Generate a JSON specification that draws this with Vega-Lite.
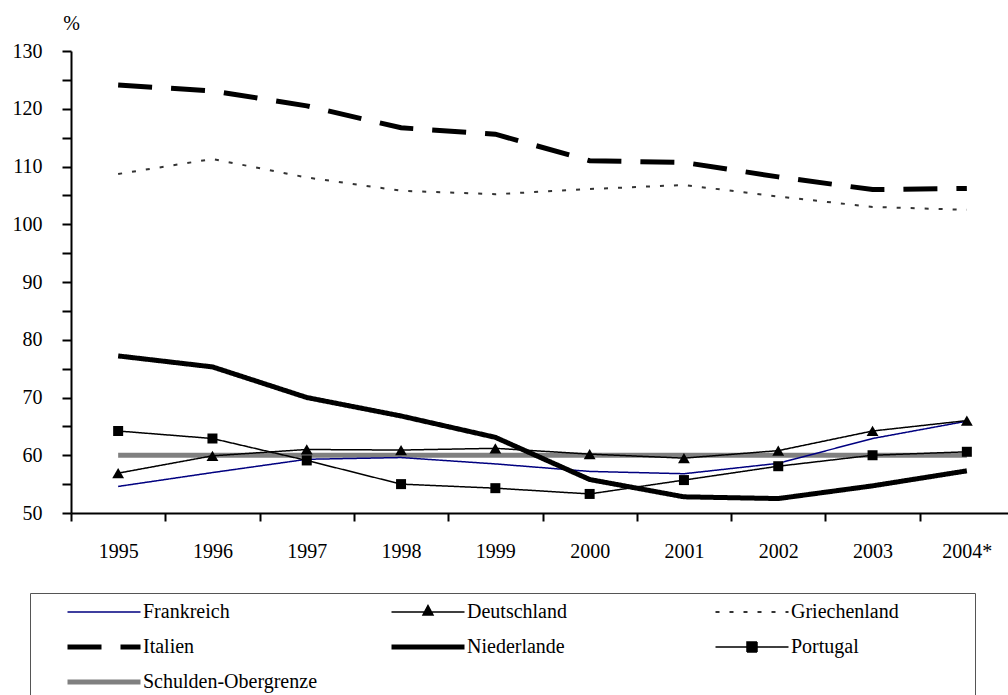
{
  "$schema": "https://vega.github.io/schema/vega-lite/v6.json",
  "width": 937,
  "height": 462,
  "autosize": {"type": "none"},
  "padding": {"left": 71, "top": 51, "right": 0, "bottom": 182},
  "background": "white",
  "config": {"font": "Liberation Serif", "view": {"stroke": null}},
  "data": {
    "values": [
      {"year": "1995", "Frankreich": 54.6, "Deutschland": 56.9, "Griechenland": 108.7, "Italien": 124.1, "Niederlande": 77.2, "Portugal": 64.2, "Schulden-Obergrenze": 60},
      {"year": "1996", "Frankreich": 57.0, "Deutschland": 59.9, "Griechenland": 111.3, "Italien": 123.1, "Niederlande": 75.3, "Portugal": 62.9, "Schulden-Obergrenze": 60},
      {"year": "1997", "Frankreich": 59.3, "Deutschland": 61.0, "Griechenland": 108.1, "Italien": 120.5, "Niederlande": 70.0, "Portugal": 59.1, "Schulden-Obergrenze": 60},
      {"year": "1998", "Frankreich": 59.6, "Deutschland": 60.9, "Griechenland": 105.8, "Italien": 116.7, "Niederlande": 66.8, "Portugal": 55.0, "Schulden-Obergrenze": 60},
      {"year": "1999", "Frankreich": 58.5, "Deutschland": 61.2, "Griechenland": 105.2, "Italien": 115.6, "Niederlande": 63.1, "Portugal": 54.3, "Schulden-Obergrenze": 60},
      {"year": "2000", "Frankreich": 57.2, "Deutschland": 60.2, "Griechenland": 106.1, "Italien": 111.0, "Niederlande": 55.8, "Portugal": 53.3, "Schulden-Obergrenze": 60},
      {"year": "2001", "Frankreich": 56.8, "Deutschland": 59.5, "Griechenland": 106.8, "Italien": 110.7, "Niederlande": 52.8, "Portugal": 55.7, "Schulden-Obergrenze": 60},
      {"year": "2002", "Frankreich": 58.6, "Deutschland": 60.8, "Griechenland": 104.8, "Italien": 108.2, "Niederlande": 52.5, "Portugal": 58.1, "Schulden-Obergrenze": 60},
      {"year": "2003", "Frankreich": 62.9, "Deutschland": 64.2, "Griechenland": 103.0, "Italien": 106.0, "Niederlande": 54.7, "Portugal": 60.0, "Schulden-Obergrenze": 60},
      {"year": "2004*", "Frankreich": 65.9, "Deutschland": 66.0, "Griechenland": 102.5, "Italien": 106.2, "Niederlande": 57.3, "Portugal": 60.6, "Schulden-Obergrenze": 60}
    ]
  },
  "transform": [
    {"fold": ["Frankreich", "Deutschland", "Griechenland", "Italien", "Niederlande", "Portugal", "Schulden-Obergrenze"], "as": ["series", "value"]}
  ],
  "encoding": {
    "x": {
      "field": "year", "type": "ordinal", "sort": null,
      "scale": {"type": "band", "paddingInner": 0, "paddingOuter": 0, "range": [0, 943]},
      "axis": {
        "title": null, "labelAngle": 0, "labelFont": "Liberation Serif", "labelFontSize": 20, "labelColor": "black",
        "labelPadding": 20, "tickSize": 8, "tickWidth": 2, "tickColor": "black", "domainColor": "black", "domainWidth": 2,
        "tickBand": "extent", "grid": false
      }
    },
    "y": {
      "field": "value", "type": "quantitative",
      "scale": {"domain": [50, 130], "nice": false, "zero": false},
      "axis": {
        "values": [50, 55, 60, 65, 70, 75, 80, 85, 90, 95, 100, 105, 110, 115, 120, 125, 130],
        "labelExpr": "datum.value % 10 === 0 ? datum.label : ''",
        "title": "%", "titleAngle": 0, "titleX": 0, "titleY": -28, "titleAlign": "center", "titleBaseline": "middle",
        "titleFont": "Liberation Serif", "titleFontSize": 20, "titleFontWeight": "normal", "titleColor": "black",
        "labelFont": "Liberation Serif", "labelFontSize": 20, "labelColor": "black", "labelPadding": 20,
        "tickSize": 9, "tickWidth": 2, "tickColor": "black", "domainColor": "black", "domainWidth": 2, "grid": false
      }
    }
  },
  "layer": [
    {
      "transform": [{"filter": "datum.series === 'Schulden-Obergrenze'"}],
      "mark": {"type": "line", "strokeWidth": 5},
      "encoding": {
        "color": {
          "field": "series", "type": "nominal",
          "scale": {
            "domain": ["Frankreich", "Deutschland", "Griechenland", "Italien", "Niederlande", "Portugal", "Schulden-Obergrenze"],
            "range": ["#000080", "#000000", "#333333", "#000000", "#000000", "#000000", "#808080"]
          }
        }
      }
    },
    {
      "transform": [{"filter": "datum.series !== 'Schulden-Obergrenze'"}],
      "mark": {"type": "line"},
      "encoding": {
        "color": {
          "field": "series", "type": "nominal",
          "scale": {
            "domain": ["Frankreich", "Deutschland", "Griechenland", "Italien", "Niederlande", "Portugal", "Schulden-Obergrenze"],
            "range": ["#000080", "#000000", "#333333", "#000000", "#000000", "#000000", "#808080"]
          },
          "legend": {
            "title": null, "orient": "none", "direction": "horizontal", "legendX": -41, "legendY": 542, "columns": 3, "gridAlign": "all",
            "columnPadding": 29, "rowPadding": 15, "padding": 9, "strokeColor": "#555555",
            "labelFont": "Liberation Serif", "labelFontSize": 20, "labelColor": "black", "labelLimit": 400,
            "symbolType": "stroke", "symbolSize": 400, "symbolOffset": 55, "labelOffset": 29,
            "encode": {
              "symbols": {
                "update": {
                  "shape": {"signal": "'M-6.5,0M21,0' + (datum.value === 'Deutschland' ? 'M-3.65,0H3.65M-0.5,0.3L0,-0.65L0.5,0.3Z' : (datum.value === 'Portugal' ? 'M-3.65,0H3.65M-0.5,-0.5H0.5V0.5H-0.5Z' : 'M-3.65,0H3.65'))"},
                  "fill": {"signal": "(datum.value === 'Deutschland' || datum.value === 'Portugal') ? 'black' : 'transparent'"},
                  "stroke": {"signal": "datum.value === 'Frankreich' ? '#000080' : (datum.value === 'Griechenland' ? '#333333' : (datum.value === 'Schulden-Obergrenze' ? '#808080' : '#000000'))"},
                  "opacity": {"value": 1},
                  "strokeWidth": {"signal": "(datum.value === 'Italien' || datum.value === 'Niederlande' || datum.value === 'Schulden-Obergrenze') ? 5 : (datum.value === 'Griechenland' ? 2 : 1.5)"},
                  "strokeDash": {"signal": "datum.value === 'Italien' ? [34, 19] : (datum.value === 'Griechenland' ? [4, 10] : [1, 0])"}
                }
              }
            }
          }
        },
        "strokeWidth": {
          "condition": [
            {"test": "datum.series === 'Italien' || datum.series === 'Niederlande'", "value": 5},
            {"test": "datum.series === 'Griechenland'", "value": 2}
          ],
          "value": 1.5
        },
        "strokeDash": {
          "condition": [
            {"test": "datum.series === 'Italien'", "value": [34, 19]},
            {"test": "datum.series === 'Griechenland'", "value": [4, 10]}
          ],
          "value": [1, 0]
        }
      }
    },
    {
      "transform": [{"filter": "datum.series === 'Deutschland' || datum.series === 'Portugal'"}],
      "mark": {"type": "point", "filled": true, "opacity": 1},
      "encoding": {
        "shape": {
          "field": "series", "type": "nominal",
          "scale": {"domain": ["Deutschland", "Portugal"], "range": ["triangle-up", "square"]},
          "legend": null
        },
        "color": {"value": "black"},
        "size": {"condition": {"test": "datum.series === 'Deutschland'", "value": 140}, "value": 100}
      }
    }
  ]
}
